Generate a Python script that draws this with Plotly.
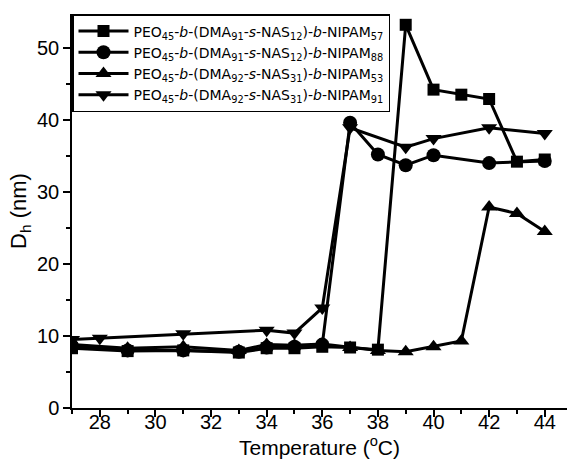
import plotly.graph_objects as go

# Series 1: squares (NIPAM57)
x_sq = [27, 29, 31, 33, 34, 35, 36, 37, 38, 39, 40, 41, 42, 43, 44]
y_sq = [8.3, 7.9, 8.0, 7.7, 8.3, 8.3, 8.5, 8.4, 8.1, 53.2, 44.2, 43.5, 42.9, 34.2, 34.5]
# Series 2: circles (NIPAM88)
x_ci = [27, 29, 31, 33, 34, 35, 36, 37, 38, 39, 40, 42, 44]
y_ci = [8.6, 8.0, 8.0, 7.8, 8.4, 8.5, 8.8, 39.6, 35.2, 33.7, 35.1, 34.0, 34.3]
# Series 3: up triangles (NIPAM53)
x_tu = [27, 29, 31, 33, 34, 35, 36, 37, 38, 39, 40, 41, 42, 43, 44]
y_tu = [8.8, 8.3, 8.5, 8.0, 8.8, 8.7, 8.9, 8.4, 8.0, 7.8, 8.5, 9.3, 27.9, 27.0, 24.5]
# Series 4: down triangles (NIPAM91)
x_td = [27, 28, 31, 34, 35, 36, 37, 39, 40, 42, 44]
y_td = [9.5, 9.7, 10.3, 10.8, 10.4, 13.9, 38.9, 36.2, 37.4, 38.9, 38.1]

x_ticks = [28, 30, 32, 34, 36, 38, 40, 42, 44]
y_ticks = [0, 10, 20, 30, 40, 50]

names = [
    "PEO<sub>45</sub>-<i>b</i>-(DMA<sub>91</sub>-<i>s</i>-NAS<sub>12</sub>)-<i>b</i>-NIPAM<sub>57</sub>",
    "PEO<sub>45</sub>-<i>b</i>-(DMA<sub>91</sub>-<i>s</i>-NAS<sub>12</sub>)-<i>b</i>-NIPAM<sub>88</sub>",
    "PEO<sub>45</sub>-<i>b</i>-(DMA<sub>92</sub>-<i>s</i>-NAS<sub>31</sub>)-<i>b</i>-NIPAM<sub>53</sub>",
    "PEO<sub>45</sub>-<i>b</i>-(DMA<sub>92</sub>-<i>s</i>-NAS<sub>31</sub>)-<i>b</i>-NIPAM<sub>91</sub>",
]
symbols = ["square", "circle", "triangle-up", "triangle-down"]
sizes = [12, 14, 14, 14]

fig = go.Figure()
for xs, ys, nm, sym, sz in zip([x_sq, x_ci, x_tu, x_td], [y_sq, y_ci, y_tu, y_td], names, symbols, sizes):
    fig.add_trace(go.Scatter(
        x=xs, y=ys, name=nm, mode="lines+markers",
        line=dict(color="black", width=3),
        marker=dict(symbol=sym, size=sz, color="black"),
    ))

fig.update_layout(
    width=567, height=468,
    margin=dict(l=72, r=0, t=14, b=60),
    paper_bgcolor="white", plot_bgcolor="white",
    font=dict(family="Liberation Sans, Arial", color="black", size=20),
    legend=dict(
        x=0, y=1, xanchor="left", yanchor="top",
        bordercolor="black", borderwidth=1.5, bgcolor="white",
        font=dict(size=14, family="DejaVu Sans"), tracegroupgap=0, itemwidth=50,
    ),
    xaxis=dict(
        range=[27, 44.8], tickmode="array", tickvals=x_ticks,
        showline=True, linecolor="black", linewidth=1.5, ticks="outside",
        ticklen=7, tickwidth=1.5, tickcolor="black", showgrid=False, zeroline=False,
        minor=dict(ticks="outside", ticklen=4, tickwidth=1.5, tickcolor="black", dtick=1, tick0=27),
        title=dict(text="Temperature (<sup>o</sup>C)", font=dict(size=21), standoff=7),
        tickfont=dict(size=20), ticklabelstandoff=-12,
    ),
    yaxis=dict(
        range=[0, 54.7], tickmode="array", tickvals=y_ticks,
        showline=True, linecolor="black", linewidth=1.5, ticks="outside",
        ticklen=7, tickwidth=1.5, tickcolor="black", showgrid=False, zeroline=False,
        minor=dict(ticks="outside", ticklen=4, tickwidth=1.5, tickcolor="black", dtick=5, tick0=0),
        title=dict(text="D<sub>h</sub> (nm)", font=dict(size=22), standoff=4),
        tickfont=dict(size=20),
    ),
)

fig.write_html("out.html")
